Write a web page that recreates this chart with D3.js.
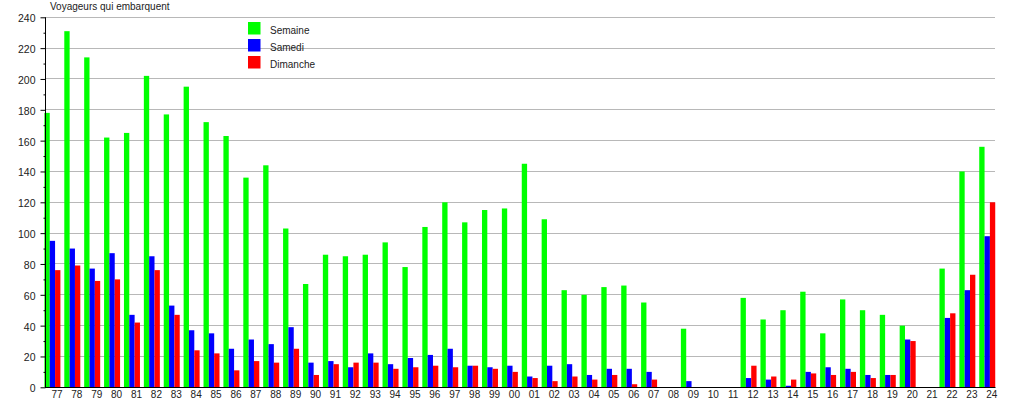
<!DOCTYPE html>
<html><head><meta charset="utf-8">
<script src="https://cdn.jsdelivr.net/npm/d3@7"></script>
<style>
html,body{margin:0;padding:0;background:#fff;}
svg{display:block;font-family:"Liberation Sans",Arial,sans-serif;}
</style></head>
<body>
<svg id="chart" width="1015" height="400"></svg>
<script>
const categories = ["77","78","79","80","81","82","83","84","85","86","87","88","89","90","91","92","93","94","95","96","97","98","99","00","01","02","03","04","05","06","07","08","09","10","11","12","13","14","15","16","17","18","19","20","21","22","23","24"];
const seriesNames = ["Semaine","Samedi","Dimanche"];
const semaine  = [178,231,214,162,165,202,177,195,172,163,136,144,103,67,86,85,86,94,78,104,120,107,115,116,145,109,63,60,65,66,55,0,38,0,0,58,44,50,62,35,57,50,47,40,0,77,140,156];
const samedi   = [95,90,77,87,47,85,53,37,35,25,31,28,39,16,17,13,22,15,19,21,25,14,13,14,7,14,15,8,12,12,10,0,4,0,0,6,5,1,10,13,12,8,8,31,0,45,63,98];
const dimanche = [76,79,69,70,42,76,47,24,22,11,17,16,25,8,15,16,16,12,13,14,13,14,12,10,6,4,7,5,8,2,5,0,0,0,0,14,7,5,9,8,10,6,8,30,0,48,73,120];
const yTicks = [0,20,40,60,80,100,120,140,160,180,200,220,240];
const yMinorTicks = [10,30,50,70,90,110,130,150,170,190,210,230];
const colors = ["#00ff00","#0000ff","#ff0000"];
const seriesValues = [semaine, samedi, dimanche];

const svg = d3.select("#chart");
const axisX = 45, plotRight = 995;
const y = d3.scaleLinear().domain([0,240]).range([387.3,17.3]);
const x = d3.scaleBand().domain(categories).range([44.4, 44.4 + 48*19.89]).paddingInner(0).paddingOuter(0);
const xs = d3.scaleBand().domain(seriesNames).range([0,16]);

// gridlines
svg.append("g").selectAll("line").data(yTicks.filter(v=>v>0)).join("line")
  .attr("x1", axisX).attr("x2", plotRight)
  .attr("y1", d=>Math.floor(y(d))+0.5).attr("y2", d=>Math.floor(y(d))+0.5)
  .attr("stroke","#b8b8b8").attr("stroke-width",1);

// bars
const rows = categories.map((c,i)=>({c, vals: seriesValues.map((s,k)=>({name:seriesNames[k], v:s[i], k}))}));
const gg = svg.append("g").selectAll("g").data(rows).join("g")
  .attr("transform", d=>`translate(${x(d.c)},0)`);
gg.selectAll("rect").data(d=>d.vals.filter(e=>e.v>0)).join("rect")
  .attr("x", d=>xs(d.name)).attr("width", xs.bandwidth())
  .attr("y", d=>y(d.v)).attr("height", d=>y(0)-y(d.v))
  .attr("fill", d=>colors[d.k]);

// y axis
const yAxis = svg.append("g").attr("transform", `translate(${axisX+0.5},0)`)
  .call(d3.axisLeft(y).tickValues(yTicks).tickSize(5).tickPadding(5).tickSizeOuter(0));
yAxis.select(".domain").attr("d", `M0,${y(240)}V${y(0)}`).attr("stroke","#000");
yAxis.selectAll(".tick line").attr("stroke","#000");
yAxis.selectAll("text").attr("font-size","10.5px").attr("fill","#222").attr("dy","0.42em")
  .attr("font-family","'Liberation Sans',Arial,sans-serif");
const yMinor = svg.append("g").attr("transform", `translate(${axisX+0.5},0)`)
  .call(d3.axisLeft(y).tickValues(yMinorTicks).tickSize(2).tickFormat(""));
yMinor.select(".domain").remove();
yMinor.selectAll(".tick line").attr("stroke","#000");

// x axis
const xAxis = svg.append("g").attr("transform", `translate(0,${Math.floor(y(0))+0.5})`)
  .call(d3.axisBottom(x).tickSize(0).tickPadding(3.5));
xAxis.select(".domain").attr("d", `M${axisX},0H${plotRight+0.5}`).attr("stroke","#000");
xAxis.selectAll("text").attr("font-size","10px").attr("fill","#222").attr("dx", 2.6)
  .attr("font-family","'Liberation Sans',Arial,sans-serif");

// title
svg.append("text").attr("x",50).attr("y",10).attr("font-size","10px").attr("fill","#222")
  .text("Voyageurs qui embarquent");

// legend
const lg = svg.append("g").selectAll("g").data(seriesNames).join("g")
  .attr("transform",(d,i)=>`translate(248,${22+i*17})`);
lg.append("rect").attr("width",12.5).attr("height",12.5).attr("fill",(d,i)=>colors[i]);
lg.append("text").attr("x",22).attr("y",12).attr("font-size","10px").attr("fill","#222").text(d=>d);
</script>
</body></html>
